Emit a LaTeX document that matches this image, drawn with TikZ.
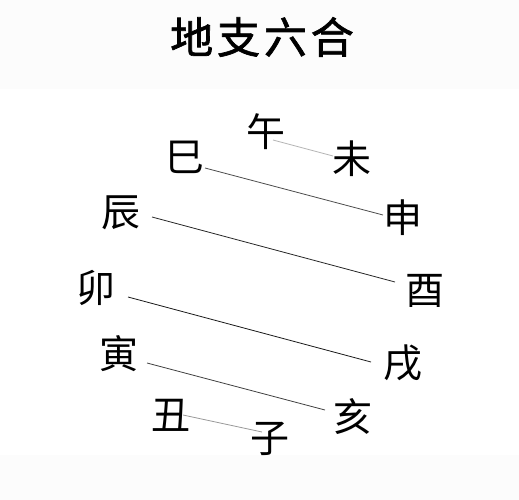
\documentclass[tikz,border=0pt]{standalone}
\usepackage{fontspec}
\newfontfamily\cjk{Noto Sans CJK SC}
\newfontfamily\cjktitle{Noto Sans CJK SC}[FakeBold=1.6,LetterSpace=9]
\usetikzlibrary{positioning}

\definecolor{band}{HTML}{FCFCFC}
\tikzset{
  branch/.style={font=\cjk\fontsize{39}{39}\selectfont,inner sep=0pt},
  pair/.style={line width=0.8pt,draw=#1},
}

\begin{document}
\begin{tikzpicture}[x=1pt,y=-1pt]
\useasboundingbox (0,0) rectangle (519,500);
\fill[band] (0,0) rectangle (519,89);
\fill[band] (0,455) rectangle (519,500);
\node[font=\cjktitle\fontsize{43}{43}\selectfont] (title) at (262,37) {地支六合};
% the twelve branches
\node[branch] (wu) at (266,132) {午};
\node[branch] (wei) at (352,159) {未};
\node[branch] (si) at (185,157) {巳};
\node[branch] (shen) at (403,218) {申};
\node[branch] (chen) at (121,213) {辰};
\node[branch] (you) at (425,291) {酉};
\node[branch] (mao) at (96,288) {卯};
\node[branch] (xu) at (403,363) {戌};
\node[branch] (yin) at (119,354) {寅};
\node[branch] (hai) at (353,417) {亥};
\node[branch] (chou) at (171,415) {丑};
\node[branch] (zi) at (270,439) {子};
% the six pairs
\draw[pair=black!30] ([shift={(7,8)}]wu.center) -- ([shift={(-19,-3)}]wei.center);
\draw[pair=black!70] ([shift={(20,11)}]si.center) -- ([shift={(-20,-3)}]shen.center);
\draw[pair=black!85] ([shift={(31,4)}]chen.center) -- ([shift={(-30,-9)}]you.center);
\draw[pair=black!90] ([shift={(32,9)}]mao.center) -- ([shift={(-32,-1)}]xu.center);
\draw[pair=black!75] ([shift={(28,9)}]yin.center) -- ([shift={(-28,-7)}]hai.center);
\draw[pair=black!40] ([shift={(12,0)}]chou.center) -- ([shift={(-8,-7)}]zi.center);
\end{tikzpicture}
\end{document}
